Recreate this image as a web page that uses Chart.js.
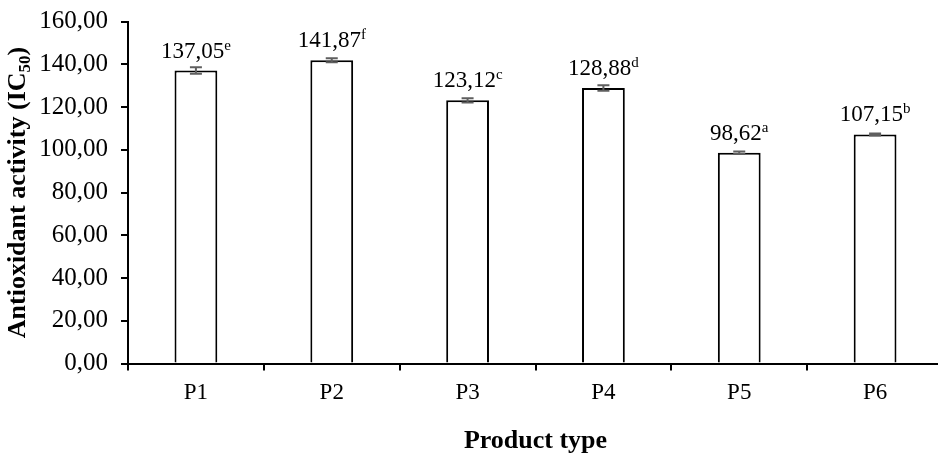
<!DOCTYPE html>
<html>
<head>
<meta charset="utf-8">
<script src="https://cdn.jsdelivr.net/npm/chart.js@4.4.1/dist/chart.umd.min.js"></script>
<style>
  html, body { margin: 0; padding: 0; overflow: hidden; background: #fff; }
  canvas { display: block; }
</style>
</head>
<body>
<canvas id="chart" width="950" height="453"></canvas>
<script>
// Antioxidant activity (IC50) per product type, mean ± error, with significance letters
const categories = ['P1', 'P2', 'P3', 'P4', 'P5', 'P6'];
const ic50Values = [137.05, 141.87, 123.12, 128.88, 98.62, 107.15];
const ic50Errors = [1.5, 0.9, 1.0, 1.3, 0.6, 0.5];
const groupLetters = ['e', 'f', 'c', 'd', 'a', 'b'];
const yTickValues = [0, 20, 40, 60, 80, 100, 120, 140, 160];

const SERIF = "'Liberation Serif', 'Times New Roman', serif";
const fmt = v => v.toFixed(2).replace('.', ',');

// Error bars and value labels with superscript letters
const barAnnotations = {
  id: 'barAnnotations',
  afterDatasetsDraw(chart) {
    const ctx = chart.ctx;
    const yScale = chart.scales.y;
    const meta = chart.getDatasetMeta(0);
    ctx.save();
    meta.data.forEach((bar, i) => {
      const v = ic50Values[i];
      const e = ic50Errors[i];
      const yHi = yScale.getPixelForValue(v + e);
      const yLo = yScale.getPixelForValue(v - e);
      ctx.strokeStyle = '#5f5f5f';
      ctx.lineWidth = 2;
      ctx.beginPath();
      ctx.moveTo(bar.x, yHi); ctx.lineTo(bar.x, yLo);
      ctx.moveTo(bar.x - 6, yHi); ctx.lineTo(bar.x + 6, yHi);
      ctx.moveTo(bar.x - 6, yLo); ctx.lineTo(bar.x + 6, yLo);
      ctx.stroke();

      const main = fmt(v);
      const sup = groupLetters[i];
      ctx.font = `23px ${SERIF}`;
      const wMain = ctx.measureText(main).width;
      ctx.font = `15px ${SERIF}`;
      const wSup = ctx.measureText(sup).width;
      const x0 = bar.x - (wMain + wSup) / 2;
      const base = yScale.getPixelForValue(v) - 13;
      ctx.fillStyle = '#000';
      ctx.textAlign = 'left';
      ctx.textBaseline = 'alphabetic';
      ctx.font = `23px ${SERIF}`;
      ctx.fillText(main, x0, base);
      ctx.font = `15px ${SERIF}`;
      ctx.fillText(sup, x0 + wMain, base - 8);
    });
    ctx.restore();
  }
};

// Axis titles (the y title carries a subscript)
const axisTitles = {
  id: 'axisTitles',
  afterDraw(chart) {
    const ctx = chart.ctx;
    const area = chart.chartArea;
    ctx.save();
    ctx.fillStyle = '#000';
    ctx.textBaseline = 'alphabetic';
    ctx.textAlign = 'left';

    // x title
    ctx.font = `bold 26px ${SERIF}`;
    const xt = 'Product type';
    const wx = ctx.measureText(xt).width;
    ctx.fillText(xt, (area.left + area.right) / 2 - wx / 2, 448);

    // y title, rotated
    const parts = [
      { t: 'Antioxidant activity (IC', size: 26, dy: 0 },
      { t: '50', size: 17, dy: 5 },
      { t: ')', size: 26, dy: 0 }
    ];
    let total = 0;
    parts.forEach(p => { ctx.font = `bold ${p.size}px ${SERIF}`; p.w = ctx.measureText(p.t).width; total += p.w; });
    ctx.translate(25, (area.top + area.bottom) / 2);
    ctx.rotate(-Math.PI / 2);
    let x = -total / 2;
    parts.forEach(p => {
      ctx.font = `bold ${p.size}px ${SERIF}`;
      ctx.fillText(p.t, x, p.dy);
      x += p.w;
    });
    ctx.restore();
  }
};

new Chart(document.getElementById('chart'), {
  type: 'bar',
  data: {
    labels: categories,
    datasets: [{
      data: ic50Values,
      backgroundColor: '#ffffff',
      borderColor: '#000000',
      borderWidth: 2,
      barPercentage: 0.315,
      categoryPercentage: 1.0
    }]
  },
  options: {
    responsive: false,
    animation: false,
    layout: { padding: { left: 0, top: 21.5, right: 7, bottom: 0 } },
    plugins: { legend: { display: false }, tooltip: { enabled: false } },
    scales: {
      x: {
        offset: true,
        grid: { display: true, offset: true, drawOnChartArea: false, drawTicks: true, tickLength: 7, color: '#000', lineWidth: 2 },
        border: { display: true, color: '#000', width: 2 },
        ticks: { color: '#000', font: { family: SERIF, size: 23 }, padding: 9 },
        afterFit(scale) {
          scale.height = 453 - 363.5;
          scale.paddingLeft = 0;
          scale.paddingRight = 0;
        }
      },
      y: {
        min: 0,
        max: 160,
        afterBuildTicks(scale) { scale.ticks = yTickValues.map(v => ({ value: v })); },
        grid: { display: true, drawOnChartArea: false, drawTicks: true, tickLength: 7, color: '#000', lineWidth: 2 },
        border: { display: true, color: '#000', width: 2 },
        ticks: { color: '#000', font: { family: SERIF, size: 25 }, padding: 13, callback: v => fmt(v) },
        afterFit(scale) {
          scale.width = 128;
          scale.paddingTop = 0;
          scale.paddingBottom = 0;
        }
      }
    }
  },
  plugins: [barAnnotations, axisTitles]
});
</script>
</body>
</html>
